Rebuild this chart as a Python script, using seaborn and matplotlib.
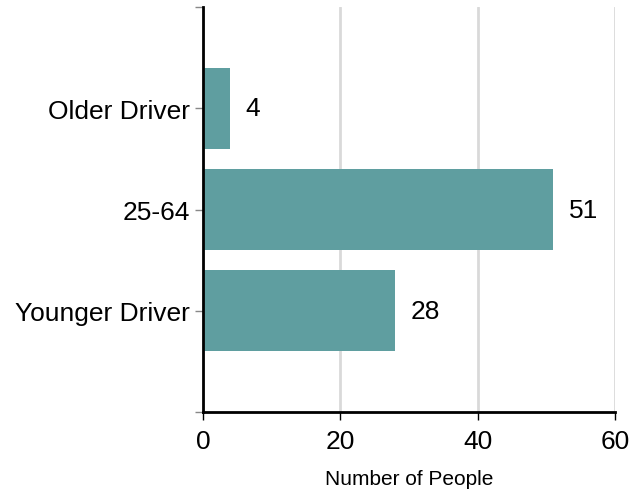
import matplotlib
matplotlib.use("Agg")
import matplotlib.pyplot as plt
import seaborn as sns
import pandas as pd

categories = ["Older Driver", "25-64", "Younger Driver"]
counts = [4, 51, 28]
x_ticks = [0, 20, 40, 60]

df = pd.DataFrame({"group": categories, "people": counts})

sns.set_theme(style="white")
plt.rcParams["font.family"] = ["Liberation Sans", "DejaVu Sans"]
plt.rcParams["text.color"] = "black"
plt.rcParams["axes.labelcolor"] = "black"
plt.rcParams["xtick.color"] = "black"
plt.rcParams["ytick.color"] = "black"

fig = plt.figure(figsize=(6.31, 5.02), dpi=100)
ax = fig.add_axes([0.3217, 0.177, 0.6529, 0.807])

sns.barplot(data=df, x="people", y="group", color="#5F9EA0", saturation=1,
            width=0.8, orient="h", linewidth=0, ax=ax)

ax.bar_label(ax.containers[0], labels=[str(c) for c in counts],
             padding=11, fontsize=19, color="black")

ax.set_xlim(0, 60)
ax.set_xticks(x_ticks)
ax.set_ylim(3, -1)
ax.set_yticks([-1, 0, 1, 2, 3])
ax.set_yticklabels([""] + categories + [""])
ax.tick_params(axis="y", labelsize=19, length=6, width=1, color="#888888",
               labelcolor="black", left=True)
ax.tick_params(axis="x", labelsize=19, length=6, width=1, color="black",
               labelcolor="black", bottom=True, pad=6)

ax.xaxis.grid(True, color="#d9d9d9", linewidth=2)
ax.set_axisbelow(True)

for side in ["top", "right"]:
    ax.spines[side].set_visible(False)
for side in ["left", "bottom"]:
    ax.spines[side].set_color("black")
    ax.spines[side].set_linewidth(2)

ax.set_ylabel("")
ax.set_xlabel("Number of People", fontsize=15, labelpad=12, color="black")

fig.savefig("out.png", dpi=100)
